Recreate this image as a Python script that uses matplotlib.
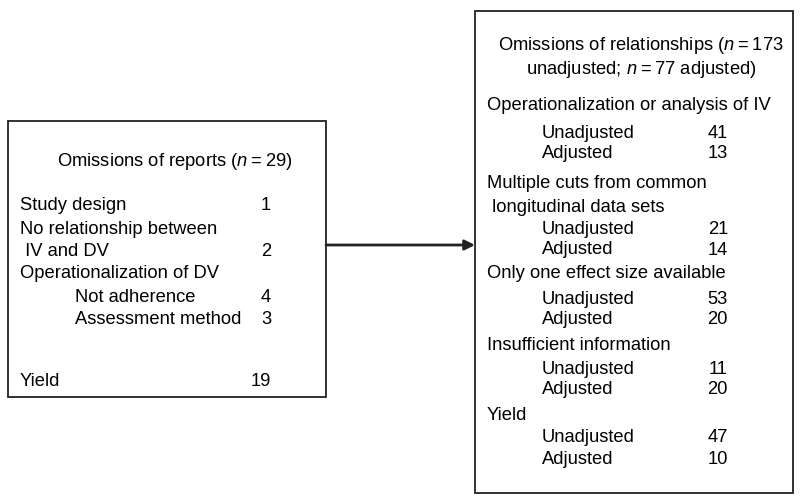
import matplotlib.pyplot as plt
import matplotlib.patches as patches

plt.rcParams['font.family'] = ['Liberation Sans', 'DejaVu Sans']
plt.rcParams['mathtext.fontset'] = 'custom'
plt.rcParams['mathtext.rm'] = 'Liberation Sans'
plt.rcParams['mathtext.it'] = 'Liberation Sans:italic'

# Left box: omissions of reports
report_labels = ["Study design", "No relationship between", " IV and DV",
                 "Operationalization of DV", "Not adherence", "Assessment method",
                 "Yield"]
report_values = ["1", "", "2", "", "4", "3", "19"]
report_indent = [0, 0, 0, 0, 1, 1, 0]
report_y = [203, 227, 250, 272, 295, 318, 380]

# Right box: omissions of relationships
rel_labels = ["Operationalization or analysis of IV", "Unadjusted", "Adjusted",
              "Multiple cuts from common", " longitudinal data sets", "Unadjusted", "Adjusted",
              "Only one effect size available", "Unadjusted", "Adjusted",
              "Insufficient information", "Unadjusted", "Adjusted",
              "Yield", "Unadjusted", "Adjusted"]
rel_values = ["", "41", "13", "", "", "21", "14", "", "53", "20",
              "", "11", "20", "", "47", "10"]
rel_indent = [0, 1, 1, 0, 0, 1, 1, 0, 1, 1, 0, 1, 1, 0, 1, 1]
rel_y = [103, 131, 152, 182, 205, 228, 248, 272, 297, 318,
         343, 367, 388, 413, 436, 458]

fig = plt.figure(figsize=(8, 5.03), dpi=100)
ax = fig.add_axes([0, 0, 1, 1])
ax.set_xlim(0, 800)
ax.set_ylim(503, 0)
ax.axis("off")

fs = 13.2
dy = 6.5  # centre -> baseline

# boxes
ax.add_patch(patches.Rectangle((8, 121), 318, 276, fill=False, edgecolor="#222222", linewidth=1.3))
ax.add_patch(patches.Rectangle((475, 11), 318, 482, fill=False, edgecolor="#222222", linewidth=1.3))

# arrow between boxes
ax.annotate("", xy=(475, 245), xytext=(326, 245),
            arrowprops=dict(arrowstyle="-|>", lw=2, color="#222222", mutation_scale=15,
                            shrinkA=0, shrinkB=0))

# left box text
ax.text(175, 160 + dy, "Omissions of reports ($\\mathit{n}$\u2009=\u200929)", fontsize=fs,
        ha="center", va="baseline")
for lab, val, ind, y in zip(report_labels, report_values, report_indent, report_y):
    ax.text(20 + ind * 55, y + dy, lab, fontsize=fs, ha="left", va="baseline")
    if val:
        ax.text(271, y + dy, val, fontsize=fs, ha="right", va="baseline")

# right box text
ax.text(641, 43 + dy, "Omissions of relationships ($\\mathit{n}$\u2009=\u2009173", fontsize=fs,
        ha="center", va="baseline")
ax.text(641, 67 + dy, "unadjusted; $\\mathit{n}$\u2009=\u200977 adjusted)", fontsize=fs,
        ha="center", va="baseline")
for lab, val, ind, y in zip(rel_labels, rel_values, rel_indent, rel_y):
    ax.text(487 + ind * 55, y + dy, lab, fontsize=fs, ha="left", va="baseline")
    if val:
        ax.text(728, y + dy, val, fontsize=fs, ha="right", va="baseline")

plt.savefig("out.png", dpi=100)
plt.close()
